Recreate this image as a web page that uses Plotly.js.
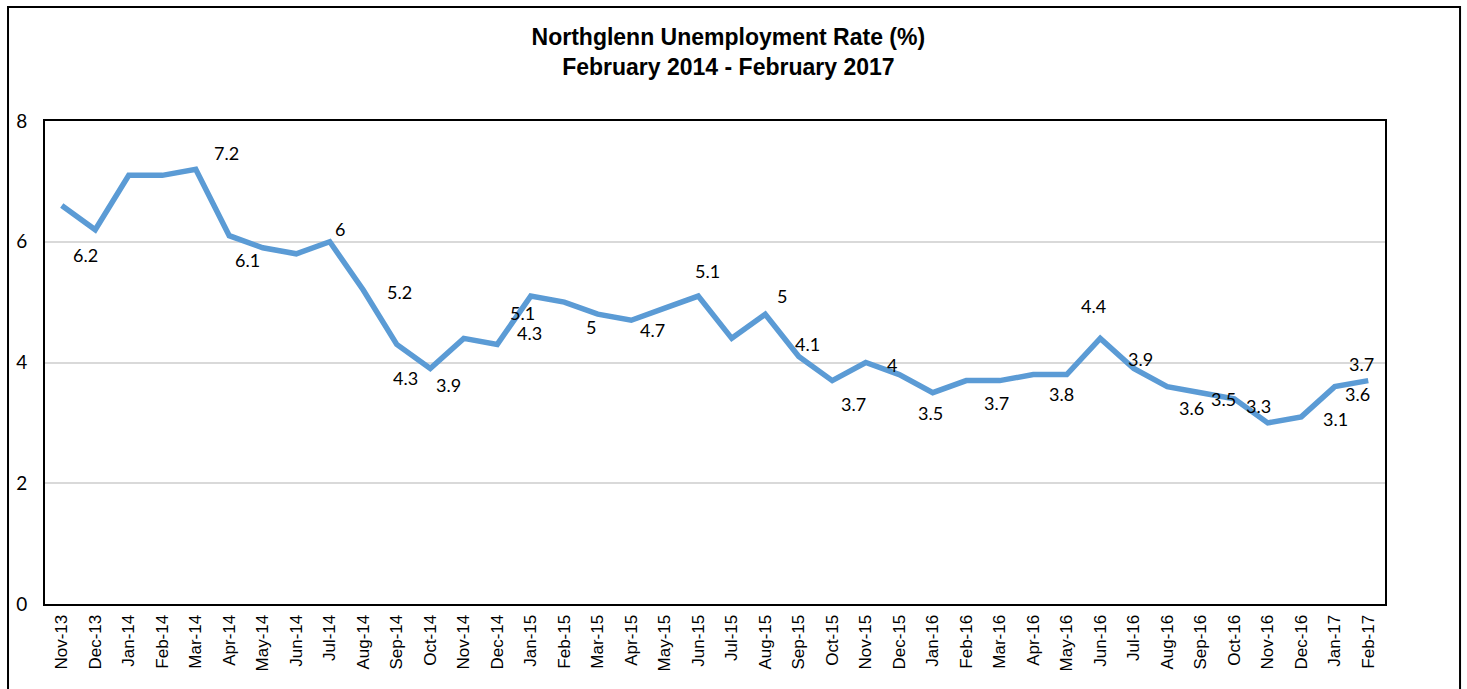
<!DOCTYPE html>
<html>
<head>
<meta charset="utf-8">
<script src="https://cdn.plot.ly/plotly-3.0.1.min.js"></script>
<style>html,body{margin:0;padding:0;background:#fff;}#chart{width:1467px;height:689px;}</style>
</head>
<body>
<div id="chart"></div>
<script>
const months = ["Nov-13","Dec-13","Jan-14","Feb-14","Mar-14","Apr-14","May-14","Jun-14","Jul-14","Aug-14",
  "Sep-14","Oct-14","Nov-14","Dec-14","Jan-15","Feb-15","Mar-15","Apr-15","May-15","Jun-15",
  "Jul-15","Aug-15","Sep-15","Oct-15","Nov-15","Dec-15","Jan-16","Feb-16","Mar-16","Apr-16",
  "May-16","Jun-16","Jul-16","Aug-16","Sep-16","Oct-16","Nov-16","Dec-16","Jan-17","Feb-17"];
const rate = [6.6,6.2,7.1,7.1,7.2,6.1,5.9,5.8,6.0,5.2,
  4.3,3.9,4.4,4.3,5.1,5.0,4.8,4.7,4.9,5.1,
  4.4,4.8,4.1,3.7,4.0,3.8,3.5,3.7,3.7,3.8,
  3.8,4.4,3.9,3.6,3.5,3.4,3.0,3.1,3.6,3.7];
const yTicks = [0,2,4,6,8];
// data labels: text and the point index each is attached to
const labelText  = ["6.2","7.2","6.1","6","5.2","4.3","3.9","5.1","4.3","5","4.7","5.1","5","4.1","3.7","4","3.5","3.7","3.8","4.4","3.9","3.6","3.5","3.3","3.1","3.6","3.7"];
const labelIndex = [1,4,5,8,9,10,11,14,13,15,17,19,21,22,23,24,26,28,30,31,32,33,34,35,37,38,39];
// style: pixel offsets of each label from its point
const labelShift = [[-10,-25],[31,16],[18,-24],[10,13],[36,-2],[9,-34],[18,-16],[-8,-17],[32,11],[27,-25],[21,-10],[9,25],[17,18],[9,12],[21,-23],[26,-2],[-2,-20],[-3,-22],[-5,-19],[-7,32],[7,10],[24,-21],[23,-6],[24,-7],[34,-2],[23,-7],[-7,17]];

const annotations = labelText.map((t,k)=>({
  x: months[labelIndex[k]], y: rate[labelIndex[k]], xref:'x', yref:'y',
  text: t, showarrow:false, xshift: labelShift[k][0], yshift: labelShift[k][1],
  font:{family:'Lato, "Open Sans", sans-serif', size:18, color:'#000'}
}));

const trace = {
  x: months, y: rate, type:'scatter', mode:'lines',
  line:{color:'#5B9BD5', width:5.5, shape:'linear'}, hoverinfo:'x+y'
};

const layout = {
  width:1467, height:689,
  margin:{l:45, r:82, t:121, b:85},
  paper_bgcolor:'#fff', plot_bgcolor:'#fff',
  showlegend:false,
  title:{text:'<b>Northglenn Unemployment Rate (%)<br>February 2014 - February 2017</b>',
    font:{family:'"Liberation Sans", Arial, sans-serif', size:23, color:'#000'},
    x:0.4965, xanchor:'center', y:0.935, yanchor:'top'},
  xaxis:{type:'category', range:[-0.5,39.5], tickangle:-90, showgrid:false, ticks:'',
    showline:true, mirror:true, linecolor:'#000', linewidth:2,
    tickfont:{family:'"Liberation Sans", Arial, sans-serif', size:17, color:'#000'}, ticklabelstandoff:2},
  yaxis:{range:[0,8], tickvals:yTicks, showgrid:true, gridcolor:'#d9d9d9', gridwidth:2,
    zeroline:false, ticks:'', showline:true, mirror:true, linecolor:'#000', linewidth:2,
    tickfont:{family:'Lato, "Open Sans", sans-serif', size:19, color:'#000'}, ticklabelstandoff:12},
  annotations: annotations,
  shapes:[{type:'rect', xref:'paper', yref:'paper', x0:-0.0276, x1:1.056, y0:-0.2, y1:1.236,
    line:{color:'#000', width:2}, fillcolor:'rgba(0,0,0,0)', layer:'below'}]
};

Plotly.newPlot('chart',[trace],layout,{displayModeBar:false, staticPlot:true});
</script>
</body>
</html>
